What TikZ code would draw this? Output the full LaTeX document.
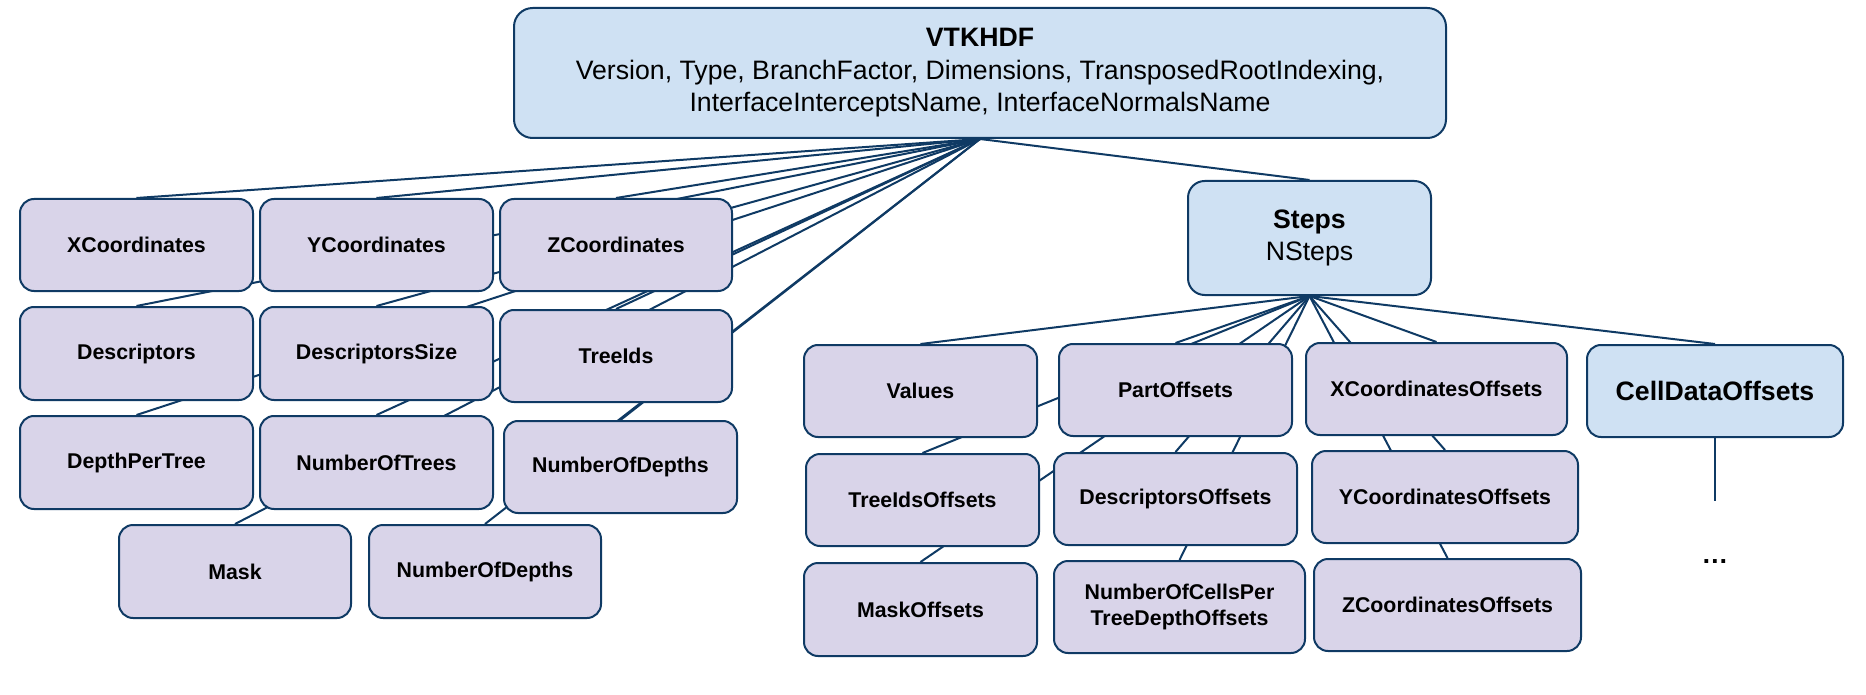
\documentclass[tikz,border=0pt]{standalone}
\usepackage{fontspec}
\setmainfont{Liberation Sans}
\usetikzlibrary{backgrounds}
\definecolor{edgec}{HTML}{0F3A64}
\definecolor{lav}{HTML}{D9D4E9}
\definecolor{lblue}{HTML}{CFE1F3}
\tikzset{
  bx/.style 2 args={minimum width=#1*0.75pt, minimum height=#2*0.75pt},
  basebox/.style={draw=edgec, line width=1.5pt, rounded corners=10.5pt, inner sep=0pt, align=center},
  leaf/.style={basebox, fill=lav, font=\bfseries\fontsize{16}{19.5}\selectfont},
  group/.style={basebox, fill=lblue, font=\fontsize{20}{24.4}\selectfont},
  conn/.style={draw=edgec, line width=1.5pt},
}
\begin{document}
\begin{tikzpicture}[x=0.75pt,y=-0.75pt]
\useasboundingbox (0,0) rectangle (1866,695);
% root
\node[group, bx={932}{130}, rounded corners=14pt] (top) at (980,73)
  {\textbf{VTKHDF}\\Version, Type, BranchFactor, Dimensions, TransposedRootIndexing,\\InterfaceInterceptsName, InterfaceNormalsName};
% left group
\node[leaf, bx={233}{92}] (xc) at (136.5,245) {XCoordinates};
\node[leaf, bx={233}{92}] (yc) at (376.5,245) {YCoordinates};
\node[leaf, bx={232}{92}] (zc) at (616,245) {ZCoordinates};
\node[leaf, bx={233}{93}] (desc) at (136.5,353.5) {Descriptors};
\node[leaf, bx={233}{93}] (dsize) at (376.5,353.5) {DescriptorsSize};
\node[leaf, bx={232}{92}] (tids) at (616,356) {TreeIds};
\node[leaf, bx={233}{93}] (dpt) at (136.5,462.5) {DepthPerTree};
\node[leaf, bx={233}{93}] (nt) at (376.5,462.5) {NumberOfTrees};
\node[leaf, bx={233}{92}] (nda) at (620.5,467) {NumberOfDepths};
\node[leaf, bx={232}{93}] (mask) at (235,571.5) {Mask};
\node[leaf, bx={232}{93}] (ndb) at (485,571.5) {NumberOfDepths};
% steps group
\node[group, bx={243}{114}, rounded corners=12.5pt] (steps) at (1309.5,238) {\textbf{Steps}\\NSteps};
\node[leaf, bx={233}{92}] (vals) at (920.5,391) {Values};
\node[leaf, bx={233}{92}] (po) at (1175.5,390) {PartOffsets};
\node[leaf, bx={261}{92}] (xco) at (1436.5,389) {XCoordinatesOffsets};
\node[group, bx={256}{92}, font=\bfseries\fontsize{20}{24.4}\selectfont] (cdo) at (1715,391) {CellDataOffsets};
\node[leaf, bx={233}{92}] (tio) at (922.5,500) {TreeIdsOffsets};
\node[leaf, bx={243}{92}] (dso) at (1175.5,499) {DescriptorsOffsets};
\node[leaf, bx={266}{92}] (yco) at (1445,497) {YCoordinatesOffsets};
\node[leaf, bx={233}{93}] (mo) at (920.5,609.5) {MaskOffsets};
\node[leaf, bx={251}{92}] (nco) at (1179.5,607) {NumberOfCellsPer\\TreeDepthOffsets};
\node[leaf, bx={267}{92}] (zco) at (1447.5,605) {ZCoordinatesOffsets};
% continuation
\coordinate (cdoend) at (1715,501);
\node[font=\bfseries\fontsize{20}{24}\selectfont, inner sep=0pt, anchor=base] (dots) at (1715,563) {…};
\begin{pgfonlayer}{background}
  \foreach \c in {xc,yc,zc,desc,dsize,tids,dpt,nt,nda,mask,ndb,steps}
    \draw[conn] (top.south) -- (\c.north);
  \foreach \c in {vals,po,xco,cdo,tio,dso,yco,mo,nco,zco}
    \draw[conn] (steps.south) -- (\c.north);
\end{pgfonlayer}
\draw[conn] (cdo.south) -- (cdoend);
\end{tikzpicture}
\end{document}
